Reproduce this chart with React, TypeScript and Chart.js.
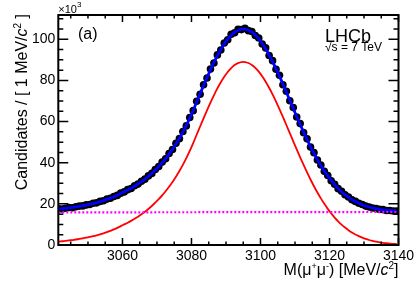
import React, { useEffect, useRef } from "react";
import { Chart, registerables } from "chart.js";

Chart.register(...registerables);

// Bin centres [MeV/c^2]
const massBins: number[] = [
  3041.5, 3042.5, 3043.5, 3044.5, 3045.5, 3046.5, 3047.5, 3048.5, 3049.5, 3050.5,
  3051.5, 3052.5, 3053.5, 3054.5, 3055.5, 3056.5, 3057.5, 3058.5, 3059.5, 3060.5,
  3061.5, 3062.5, 3063.5, 3064.5, 3065.5, 3066.5, 3067.5, 3068.5, 3069.5, 3070.5,
  3071.5, 3072.5, 3073.5, 3074.5, 3075.5, 3076.5, 3077.5, 3078.5, 3079.5, 3080.5,
  3081.5, 3082.5, 3083.5, 3084.5, 3085.5, 3086.5, 3087.5, 3088.5, 3089.5, 3090.5,
  3091.5, 3092.5, 3093.5, 3094.5, 3095.5, 3096.5, 3097.5, 3098.5, 3099.5, 3100.5,
  3101.5, 3102.5, 3103.5, 3104.5, 3105.5, 3106.5, 3107.5, 3108.5, 3109.5, 3110.5,
  3111.5, 3112.5, 3113.5, 3114.5, 3115.5, 3116.5, 3117.5, 3118.5, 3119.5, 3120.5,
  3121.5, 3122.5, 3123.5, 3124.5, 3125.5, 3126.5, 3127.5, 3128.5, 3129.5, 3130.5,
  3131.5, 3132.5, 3133.5, 3134.5, 3135.5, 3136.5, 3137.5, 3138.5, 3139.5,
];

// Data: candidates per bin [x10^3]
const candidates: number[] = [
  17.6, 17.5, 17.9, 18.2, 18.1, 18.6, 18.9, 19.0, 19.5, 19.7,
  20.3, 20.5, 21.2, 21.5, 22.3, 22.7, 23.6, 24.1, 25.2, 25.8,
  26.9, 27.5, 28.8, 29.6, 31.0, 32.0, 33.6, 34.8, 36.7, 38.1,
  40.3, 41.9, 44.5, 46.4, 49.4, 51.7, 55.2, 57.9, 62.0, 65.3,
  69.9, 73.3, 77.9, 81.2, 85.5, 88.5, 92.4, 94.8, 98.2, 99.8,
  102.4, 103.2, 104.9, 104.7, 105.3, 104.2, 103.8, 101.8, 100.6, 97.7,
  95.8, 92.1, 89.6, 85.4, 82.5, 77.9, 74.7, 70.1, 66.8, 62.2,
  59.0, 54.6, 51.6, 47.6, 44.9, 41.3, 38.9, 35.8, 33.8, 31.2,
  29.5, 27.4, 26.1, 24.4, 23.3, 22.0, 21.2, 20.3, 19.7, 18.9,
  18.5, 18.0, 17.7, 17.3, 17.2, 16.8, 16.8, 16.5, 16.5,
];

// Total fit [x10^3]
const totalFit: number[] = [
  17.51, 17.67, 17.85, 18.06, 18.28, 18.53, 18.79, 19.08, 19.41, 19.77,
  20.16, 20.58, 21.05, 21.58, 22.15, 22.77, 23.46, 24.21, 25.05, 25.89,
  26.72, 27.63, 28.60, 29.67, 30.82, 32.06, 33.41, 34.87, 36.46, 38.17,
  40.02, 42.03, 44.20, 46.57, 49.12, 51.89, 54.88, 58.13, 61.66, 65.46,
  69.51, 73.53, 77.51, 81.41, 85.16, 88.72, 92.04, 95.06, 97.76, 100.07,
  101.97, 103.42, 104.39, 104.90, 104.90, 104.42, 103.47, 102.06, 100.23, 97.98,
  95.36, 92.42, 89.19, 85.71, 82.04, 78.23, 74.32, 70.36, 66.40, 62.48,
  58.63, 54.88, 51.29, 47.84, 44.58, 41.51, 38.65, 36.00, 33.58, 31.36,
  29.34, 27.53, 25.91, 24.48, 23.22, 22.11, 21.14, 20.32, 19.60, 18.98,
  18.46, 18.03, 17.65, 17.34, 17.10, 16.89, 16.72, 16.58, 16.47,
];

// Signal component [x10^3]
const signalFit: number[] = [
  1.66, 1.82, 2.00, 2.20, 2.42, 2.67, 2.93, 3.22, 3.54, 3.90,
  4.29, 4.71, 5.18, 5.70, 6.27, 6.89, 7.58, 8.33, 9.16, 10.00,
  10.83, 11.74, 12.71, 13.77, 14.92, 16.16, 17.51, 18.97, 20.55, 22.26,
  24.11, 26.12, 28.29, 30.65, 33.20, 35.97, 38.96, 42.21, 45.73, 49.53,
  53.58, 57.60, 61.58, 65.47, 69.22, 72.78, 76.10, 79.12, 81.81, 84.12,
  86.02, 87.47, 88.44, 88.94, 88.94, 88.46, 87.51, 86.10, 84.26, 82.01,
  79.39, 76.45, 73.21, 69.73, 66.06, 62.25, 58.34, 54.38, 50.41, 46.49,
  42.64, 38.89, 35.29, 31.84, 28.58, 25.51, 22.65, 20.00, 17.57, 15.35,
  13.33, 11.52, 9.90, 8.47, 7.20, 6.09, 5.12, 4.29, 3.57, 2.95,
  2.43, 1.99, 1.62, 1.31, 1.06, 0.85, 0.67, 0.54, 0.42,
];

// Background component (straight line) [x10^3]
const bkgMass: number[] = [3041.4, 3140];
const bkgFit: number[] = [15.85, 16.05];

// Axis ticks
const xMajorTicks: number[] = [3060, 3080, 3100, 3120, 3140];
const xMinorTicks: number[] = [
  3045, 3050, 3055, 3065, 3070, 3075, 3085, 3090, 3095, 3105, 3110, 3115, 3125, 3130, 3135,
];
const yMajorTicks: number[] = [0, 20, 40, 60, 80, 100];
const yMinorTicks: number[] = [
  5, 10, 15, 25, 30, 35, 45, 50, 55, 65, 70, 75, 85, 90, 95, 105, 110,
];

const FONT = "'Liberation Sans', Arial, Helvetica, sans-serif";

type Seg = { t: string; size: number; italic?: boolean; dy?: number };

function segWidth(ctx: CanvasRenderingContext2D, segs: Seg[]) {
  let w = 0;
  for (const s of segs) {
    ctx.font = `${s.italic ? "italic " : ""}${s.size}px ${FONT}`;
    w += ctx.measureText(s.t).width;
  }
  return w;
}

function drawSegs(ctx: CanvasRenderingContext2D, segs: Seg[], x: number, y: number) {
  let cx = x;
  ctx.textAlign = "left";
  ctx.textBaseline = "alphabetic";
  for (const s of segs) {
    ctx.font = `${s.italic ? "italic " : ""}${s.size}px ${FONT}`;
    ctx.fillText(s.t, cx, y - (s.dy || 0));
    cx += ctx.measureText(s.t).width;
  }
}

const rootPlugin = {
  id: "rootStyle",
  afterDraw(chart: any) {
    const { ctx, chartArea: a, scales } = chart;
    const xs = scales.x;
    const ys = scales.y;
    ctx.save();
    ctx.strokeStyle = "#000";
    ctx.fillStyle = "#000";
    // ticks
    ctx.lineWidth = 1.5;
    ctx.beginPath();
    const xTick = (v: number, len: number) => {
      const px = xs.getPixelForValue(v);
      ctx.moveTo(px, a.bottom);
      ctx.lineTo(px, a.bottom - len);
      ctx.moveTo(px, a.top);
      ctx.lineTo(px, a.top + len);
    };
    const yTick = (v: number, len: number) => {
      const py = ys.getPixelForValue(v);
      ctx.moveTo(a.left, py);
      ctx.lineTo(a.left + len, py);
      ctx.moveTo(a.right, py);
      ctx.lineTo(a.right - len, py);
    };
    xMajorTicks.forEach((v) => xTick(v, 7));
    xMinorTicks.forEach((v) => xTick(v, 3.5));
    yMajorTicks.forEach((v) => yTick(v, 10));
    yMinorTicks.forEach((v) => yTick(v, 5));
    ctx.stroke();
    // frame
    ctx.lineWidth = 2;
    ctx.strokeRect(a.left, a.top, a.right - a.left, a.bottom - a.top);

    // x10^3
    drawSegs(ctx, [
      { t: "\u00d710", size: 11 },
      { t: "3", size: 8, dy: 6 },
    ], a.left, 12.5);

    // (a)
    drawSegs(ctx, [{ t: "(a)", size: 16 }], 78, 39);

    // LHCb
    drawSegs(ctx, [{ t: "LHCb", size: 18 }], 325, 41.5);
    drawSegs(ctx, [{ t: "\u221As = 7 TeV", size: 12 }], 325, 50.5);

    // x title
    const xt: Seg[] = [
      { t: "M(\u03bc", size: 16 },
      { t: "+", size: 9, dy: 6 },
      { t: "\u03bc", size: 16 },
      { t: "-", size: 9, dy: 6 },
      { t: ") [MeV/", size: 16 },
      { t: "c", size: 16, italic: true },
      { t: "2", size: 10, dy: 6 },
      { t: "]", size: 16 },
    ];
    const xw = segWidth(ctx, xt);
    drawSegs(ctx, xt, a.right - xw, 275);

    // y title
    const yt: Seg[] = [
      { t: "Candidates / [ 1 MeV/", size: 16 },
      { t: "c", size: 16, italic: true },
      { t: "2", size: 10, dy: 6 },
      { t: " ]", size: 16 },
    ];
    const yw = segWidth(ctx, yt);
    ctx.translate(27, 14);
    ctx.rotate(-Math.PI / 2);
    drawSegs(ctx, yt, -yw, 0);
    ctx.restore();
  },
};

export default function App() {
  const ref = useRef<HTMLCanvasElement | null>(null);

  useEffect(() => {
    if (!ref.current) return;
    const chart = new Chart(ref.current, {
      type: "line",
      data: {
        datasets: [
          {
            label: "Background",
            data: bkgMass.map((m, i) => ({ x: m, y: bkgFit[i] })),
            borderColor: "#ff00ff",
            borderWidth: 2.2,
            borderDash: [2, 2],
            pointRadius: 0,
            fill: false,
            order: 0,
          },
          {
            label: "Signal",
            data: massBins.map((m, i) => ({ x: m, y: signalFit[i] })),
            borderColor: "#ff0000",
            borderWidth: 1.8,
            pointRadius: 0,
            tension: 0.3,
            fill: false,
            order: 1,
          },
          {
            label: "Total fit",
            data: massBins.map((m, i) => ({ x: m, y: totalFit[i] })),
            borderColor: "#0000ff",
            borderWidth: 2.8,
            pointRadius: 0,
            tension: 0.3,
            fill: false,
            order: 2,
          },
          {
            label: "Data",
            data: massBins.map((m, i) => ({ x: m, y: candidates[i] })),
            showLine: false,
            pointRadius: 3.8,
            pointBackgroundColor: "#000",
            pointBorderWidth: 0,
            borderColor: "#000",
            order: 3,
          },
        ],
      },
      options: {
        responsive: false,
        animation: false,
        layout: { padding: { top: 15, right: 20.5, left: 0, bottom: 0 } },
        plugins: {
          legend: { display: false },
          tooltip: { enabled: false },
        },
        scales: {
          x: {
            type: "linear",
            min: 3041.4,
            max: 3140,
            grid: { display: false, drawTicks: false },
            border: { display: false },
            afterBuildTicks: (s: any) => {
              s.ticks = xMajorTicks.map((v) => ({ value: v }));
            },
            afterFit: (s: any) => {
              s.height = 47;
            },
            ticks: {
              autoSkip: false,
              maxRotation: 0,
              padding: 3,
              color: "#000",
              font: { family: FONT, size: 14 },
              callback: (v: any) => String(v),
            },
          },
          y: {
            type: "linear",
            min: 0,
            max: 111.8,
            grid: { display: false, drawTicks: false },
            border: { display: false },
            afterBuildTicks: (s: any) => {
              s.ticks = yMajorTicks.map((v) => ({ value: v }));
            },
            afterFit: (s: any) => {
              s.width = 58.3;
            },
            ticks: {
              autoSkip: false,
              padding: 3,
              color: "#000",
              font: { family: FONT, size: 14 },
              callback: (v: any) => String(v),
            },
          },
        },
      },
      plugins: [rootPlugin],
    });
    return () => chart.destroy();
  }, []);

  return (
    <div style={{ position: "fixed", left: 0, top: 0, width: 419, height: 292, background: "#fff" }}>
      <canvas ref={ref} width={419} height={292} style={{ display: "block" }} />
    </div>
  );
}
